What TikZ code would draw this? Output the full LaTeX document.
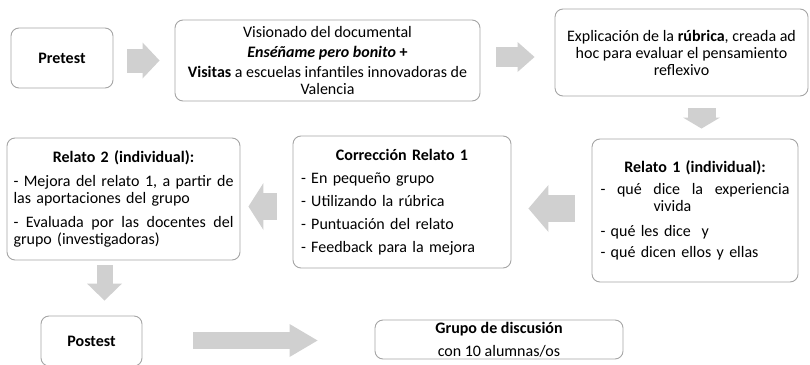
\documentclass[tikz,border=0pt]{standalone}
\usepackage{fontspec}
\setmainfont{Carlito}
\usepackage{tikz}
\usepackage{xcolor}
\usetikzlibrary{positioning,arrows.meta}
\definecolor{boxgray}{HTML}{A5A5A5}
\definecolor{arrowgray}{HTML}{D0D0D0}
\newcommand{\fullline}[2]{\leavevmode\hbox to #1{#2}}
\tikzset{
  stepbox/.style={draw=boxgray, line width=0.9pt, rounded corners=8pt, inner sep=0pt,
    fill=white, font=\fontsize{16}{17}\selectfont},
  fatarrow/.style n args={3}{draw=arrowgray, line width=#1,
    -{Triangle[width=#2, length=#3, line width=0pt]}},
}

\begin{document}
\begin{tikzpicture}[x=1pt,y=-1pt]
    \useasboundingbox (0,0) rectangle (810,364);

    \node[stepbox, minimum width=102pt, minimum height=60pt] (pre) at (62,58) {\textbf{Pretest}};
    \node[stepbox, minimum width=305pt, minimum height=81pt, align=center] (vis) at (327.5,60.5)
        {Visionado del documental\\[3pt]
         \textbf{\textit{Enséñame pero bonito} +}\\[3pt]
         \textbf{Visitas} a escuelas infantiles innovadoras de\\
         Valencia};
    \node[stepbox, minimum width=253pt, minimum height=87pt, align=center] (expl) at (681.5,52.5)
        {Explicación de la \textbf{rúbrica}, creada ad\\
         hoc para evaluar el pensamiento\\
         reflexivo};
    \node[stepbox, minimum width=206pt, minimum height=143pt, text width=189pt, align=left] (rel1) at (695,210.5)
        {\makebox[189pt]{\textbf{Relato 1 (individual):}}\\[5pt]
         \fullline{189pt}{-\hfill qué\hfill dice\hfill la\hfill experiencia}\\
         \hspace*{53pt}vivida\\[8pt]
         - qué les dice\ \ y\\[4pt]
         - qué dicen ellos y ellas};
    \node[stepbox, minimum width=218pt, minimum height=132pt, text width=202pt, align=left] (corr) at (402,202)
        {\makebox[202pt]{\textbf{Corrección Relato 1}}\\[6pt]
         - En pequeño grupo\\[6pt]
         - Utilizando la rúbrica\\[6pt]
         - Puntuación del relato\\[6pt]
         - Feedback para la mejora};
    \node[stepbox, minimum width=233pt, minimum height=122pt, text width=220pt, align=left] (rel2) at (123.5,199)
        {\makebox[220pt]{\textbf{Relato 2 (individual):}}\\[7pt]
         \fullline{220pt}{-\hfill Mejora\hfill del\hfill relato\hfill 1,\hfill a\hfill partir\hfill de}\\
         las aportaciones del grupo\\[7pt]
         \fullline{220pt}{-\hfill Evaluada\hfill por\hfill las\hfill docentes\hfill del}\\
         grupo (investigadoras)};
    \node[stepbox, minimum width=101pt, minimum height=50pt] (post) at (91.5,341) {\textbf{Postest}};
    \node[stepbox, minimum width=248pt, minimum height=39pt, align=center] (grupo) at (499,339.5)
        {\textbf{Grupo de discusión}\\[6pt]
         con 10 alumnas/os};

    \draw[fatarrow={24pt}{36pt}{17pt}] ([xshift=14pt,yshift=-2.5pt]pre.east) -- ([xshift=-15pt]vis.west);
    \draw[fatarrow={20pt}{30pt}{17pt}] ([xshift=16pt,yshift=3.5pt]vis.east) -- ([xshift=-20pt,yshift=-4.5pt]expl.west);
    \draw[fatarrow={28pt}{37pt}{11pt}] ([xshift=20pt,yshift=-12pt]expl.south) -- ([xshift=6.5pt,yshift=10pt]rel1.north);
    \draw[fatarrow={27pt}{47pt}{20pt}] ([xshift=-17pt,yshift=2pt]rel1.west) -- ([xshift=17pt,yshift=-6.5pt]corr.east);
    \draw[fatarrow={27pt}{47pt}{15pt}] ([xshift=-16pt,yshift=-4.5pt]corr.west) -- ([xshift=8pt,yshift=-7.5pt]rel2.east);
    \draw[fatarrow={16pt}{35pt}{17pt}] ([xshift=-19pt,yshift=-5pt]rel2.south) -- ([xshift=13pt,yshift=15pt]post.north);
    \draw[fatarrow={17pt}{33pt}{28pt}] ([xshift=51pt,yshift=0.5pt]post.east) -- ([xshift=-57pt,yshift=-1pt]grupo.west);
\end{tikzpicture}
\end{document}
